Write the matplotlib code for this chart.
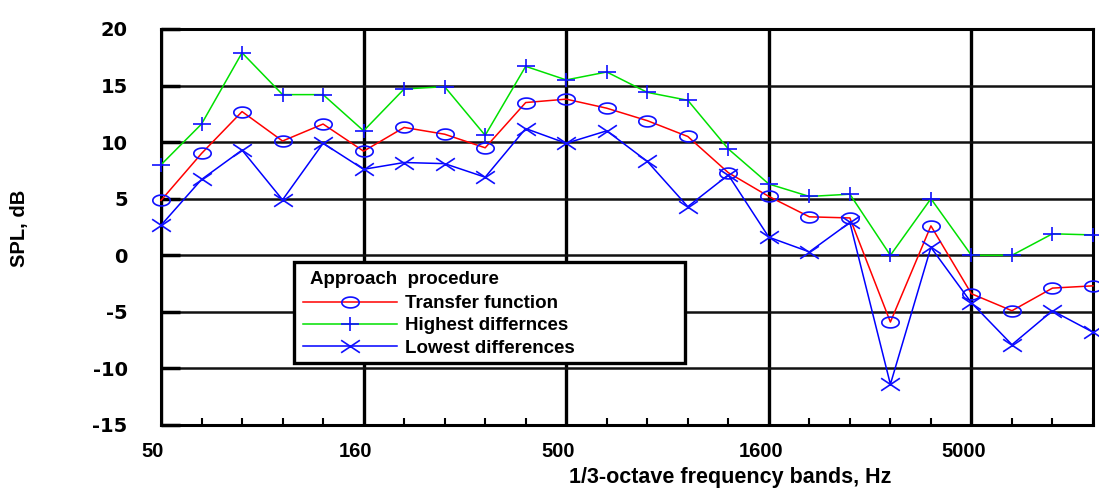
import numpy as np
import matplotlib
matplotlib.use("Agg")
import matplotlib.pyplot as plt
import matplotlib.transforms as mtransforms
from matplotlib.path import Path
from matplotlib.lines import Line2D
from matplotlib.patches import Rectangle

bands = ["50", "63", "80", "100", "125", "160", "200", "250", "315", "400", "500", "630",
         "800", "1000", "1250", "1600", "2000", "2500", "3150", "4000", "5000", "6300",
         "8000", "10000"]
transfer = [4.85, 9.0, 12.7, 10.1, 11.6, 9.2, 11.3, 10.7, 9.5, 13.5, 13.8, 13.0,
            11.9, 10.5, 7.3, 5.2, 3.4, 3.3, -5.9, 2.6, -3.4, -4.9, -2.9, -2.7]
highest = [8.0, 11.6, 17.9, 14.2, 14.2, 11.0, 14.7, 14.9, 10.6, 16.7, 15.5, 16.2,
           14.4, 13.7, 9.4, 6.3, 5.2, 5.4, 0.0, 5.0, 0.0, 0.0, 1.9, 1.8]
lowest = [2.65, 6.7, 9.3, 4.9, 9.9, 7.6, 8.2, 8.1, 6.9, 11.2, 9.9, 11.0,
          8.3, 4.3, 7.1, 1.6, 0.3, 2.9, -11.4, 0.7, -4.2, -7.9, -4.9, -6.8]
major_labels = ["50", "160", "500", "1600", "5000"]
yticks = [-15, -10, -5, 0, 5, 10, 15, 20]
series_names = ["Transfer function", "Highest differnces", "Lowest differences"]
legend_title = "Approach  procedure"

plt.rcParams['font.family'] = ['Liberation Sans', 'DejaVu Sans']
plt.rcParams['font.weight'] = 'bold'
plt.rcParams['axes.unicode_minus'] = False

# custom markers (wider than tall)
t = np.linspace(0, 2 * np.pi, 60)
ell = Path(np.column_stack([1.6 * np.cos(t), np.sin(t)]), closed=True)
plus = Path([(-1.3, 0), (1.3, 0), (0, -1), (0, 1)],
            [Path.MOVETO, Path.LINETO, Path.MOVETO, Path.LINETO])
cross = Path([(-1.5, -1), (1.5, 1), (-1.5, 1), (1.5, -1)],
             [Path.MOVETO, Path.LINETO, Path.MOVETO, Path.LINETO])

W, H = 1099, 493
fig = plt.figure(figsize=(W / 100, H / 100), dpi=100)
ax = fig.add_axes([161 / W, 1 - 425 / H, (1093 - 161) / W, (425 - 29) / H])

x = np.arange(len(bands))
mc = '#1010ff'
styles = [
    dict(color='#ff0000', marker=ell, ms=12.5),
    dict(color='#00e000', marker=plus, ms=13.5),
    dict(color='#0000ff', marker=cross, ms=13.5),
]
common = dict(lw=1.1, mec=mc, mfc='none', mew=1.2)
ax.plot(x, highest, clip_on=False, zorder=3, **styles[1], **common)
ax.plot(x, transfer, clip_on=False, zorder=4, **styles[0], **common)
ax.plot(x, lowest, clip_on=False, zorder=5, **styles[2], **common)

ax.set_xlim(0, len(bands) - 1)
ax.set_ylim(-15, 20)
major_pos = [bands.index(b) for b in major_labels]
ax.set_xticks(major_pos)
ax.set_xticklabels(major_labels)
ax.set_xticks(x, minor=True)
ax.set_yticks(yticks)
ax.set_yticklabels([str(v) for v in yticks], family='DejaVu Sans', fontweight='bold')
ax.tick_params(axis='x', which='major', direction='in', length=0, width=2, pad=12,
               labelsize=14.5)
ax.tick_params(axis='x', which='minor', direction='in', length=5, width=1.5, top=False)
ax.tick_params(axis='y', which='major', direction='in', length=14, width=2.5, pad=24,
               labelsize=14)
off = mtransforms.ScaledTranslation(-8 / 100, 0, fig.dpi_scale_trans)
for lab in ax.get_xticklabels():
    lab.set_transform(lab.get_transform() + off)
ax.grid(True, which='major', axis='x', color='black', lw=2.4)
ax.grid(True, which='major', axis='y', color='#111111', lw=1.8)
for s in ax.spines.values():
    s.set_linewidth(2.2)
ax.set_axisbelow(True)

fig.text(20 / W, 1 - 228 / H, "SPL, dB", rotation=90, ha='center', va='center',
         fontsize=14.5, fontweight='bold')
fig.text(730 / W, 1 - 478 / H, "1/3-octave frequency bands, Hz", ha='center',
         va='center', fontsize=15.5, fontweight='bold')

# legend frame and title
frame = Rectangle((294 / W, 1 - 363 / H), (685 - 294) / W, (363 - 262) / H,
                  transform=fig.transFigure, facecolor='white', edgecolor='black',
                  lw=2.4, zorder=8)
fig.patches.append(frame)
fig.text(310 / W, 1 - 280 / H, legend_title, ha='left', va='center',
         fontsize=13.5, fontweight='bold', zorder=11)

handles = [Line2D([], [], **st, **common) for st in styles]
leg = fig.legend(handles, series_names, loc='upper left',
                 bbox_to_anchor=(303 / W, 1 - 295 / H),
                 frameon=False, prop={'size': 13.5, 'weight': 'bold'},
                 handlelength=5.0, handletextpad=0.45, labelspacing=0.28,
                 borderpad=0.0, borderaxespad=0)
leg.set_zorder(10)

fig.savefig("out.png", dpi=100)
